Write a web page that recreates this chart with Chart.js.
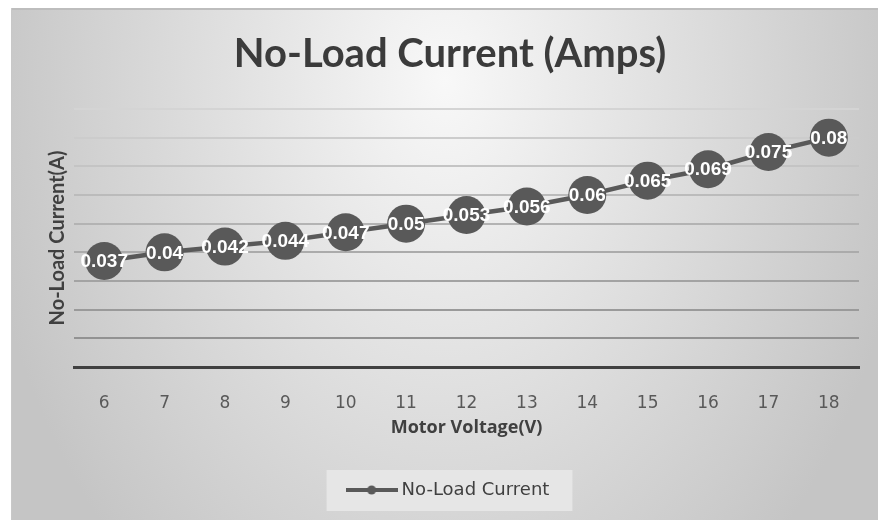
<!DOCTYPE html>
<html>
<head>
<meta charset="utf-8">
<title>No-Load Current (Amps)</title>
<script src="https://cdn.jsdelivr.net/npm/chart.js@4.4.0/dist/chart.umd.min.js"></script>
<style>
  html, body { margin: 0; padding: 0; background: #fff; }
  #wrap { position: relative; width: 878px; height: 521px; }
</style>
</head>
<body>
<div id="wrap"><canvas id="noLoad"></canvas></div>
<script>
// data
const voltages = ["6", "7", "8", "9", "10", "11", "12", "13", "14", "15", "16", "17", "18"];
const currents = [0.037, 0.04, 0.042, 0.044, 0.047, 0.05, 0.053, 0.056, 0.06, 0.065, 0.069, 0.075, 0.08];
const yMin = 0;
const yMax = 0.09;
const yStep = 0.01;

const markColor = "#595959";

// little line-with-dot icon for the legend
const legendIcon = document.createElement("canvas");
legendIcon.width = 52;
legendIcon.height = 10;
(function () {
  const c = legendIcon.getContext("2d");
  c.strokeStyle = markColor;
  c.lineWidth = 4;
  c.beginPath();
  c.moveTo(0, 5);
  c.lineTo(52, 5);
  c.stroke();
  c.fillStyle = markColor;
  c.beginPath();
  c.arc(26, 5, 4.5, 0, Math.PI * 2);
  c.fill();
})();

// grey background + legend box
const backdrop = {
  id: "backdrop",
  beforeDraw(chart) {
    const ctx = chart.ctx;
    ctx.save();
    ctx.fillStyle = "#fff";
    ctx.fillRect(0, 0, chart.width, chart.height);

    ctx.save();
    ctx.beginPath();
    ctx.rect(11, 8, 867, 512);
    ctx.clip();
    ctx.translate(445, 80);
    ctx.scale(1, 650 / 470);
    const g = ctx.createRadialGradient(0, 0, 0, 0, 0, 470);
    g.addColorStop(0, "#f8f8f8");
    g.addColorStop(1, "#c5c5c5");
    ctx.fillStyle = g;
    ctx.fillRect(-1000, -1000, 2000, 2000);
    ctx.restore();

    ctx.fillStyle = "#bdbdbd";
    ctx.fillRect(11, 8, 867, 2);
    ctx.fillStyle = "#c8c8c8";
    ctx.fillRect(11, 8, 1, 512);

    const hb = chart.legend.legendHitBoxes[0];
    if (hb) {
      const cy = hb.top + hb.height / 2;
      ctx.fillStyle = "#e6e6e6";
      ctx.fillRect(hb.left - 24, cy - 20, hb.width + 47, 41);
    }
    ctx.restore();
  }
};

// white values on top of the markers
const pointLabels = {
  id: "pointLabels",
  afterDatasetsDraw(chart) {
    const ctx = chart.ctx;
    const meta = chart.getDatasetMeta(0);
    const vals = chart.data.datasets[0].data;
    ctx.save();
    ctx.font = 'bold 19px "Liberation Sans"';
    ctx.fillStyle = "#ffffff";
    ctx.textAlign = "center";
    ctx.textBaseline = "middle";
    meta.data.forEach(function (pt, i) {
      ctx.fillText(String(vals[i]), pt.x, pt.y + 1);
    });
    ctx.restore();
  }
};

function gridShade(c) {
  if (c.index === 0) return "rgba(0,0,0,0)";
  const t = (c.index - 1) / 8;
  const v = Math.round(0x92 + t * (0xd4 - 0x92));
  return "rgb(" + v + "," + v + "," + v + ")";
}

new Chart("noLoad", {
  type: "line",
  data: {
    labels: voltages,
    datasets: [
      {
        label: "No-Load Current",
        data: currents,
        borderColor: markColor,
        backgroundColor: markColor,
        borderWidth: 4.5,
        pointRadius: 19,
        pointBackgroundColor: markColor,
        pointBorderWidth: 0,
        pointStyle: "circle",
        tension: 0,
        clip: false
      }
    ]
  },
  options: {
    responsive: true,
    maintainAspectRatio: false,
    animation: false,
    events: [],
    layout: {
      padding: { left: 36, right: 14, top: 0, bottom: 12 }
    },
    plugins: {
      title: {
        display: true,
        text: "No-Load Current (Amps)",
        color: "#3b3b3b",
        font: { family: "Lato", weight: "bold", size: 40, lineHeight: 1.2 },
        padding: { top: 30, bottom: 31 }
      },
      legend: {
        position: "bottom",
        labels: {
          usePointStyle: true,
          pointStyle: legendIcon,
          pointStyleWidth: 42,
          padding: 34.8,
          color: "#404040",
          font: { family: '"DejaVu Sans"', size: 18 }
        }
      },
      tooltip: { enabled: false }
    },
    scales: {
      x: {
        type: "category",
        offset: true,
        grid: { display: false },
        border: { display: true, color: "#404040", width: 3 },
        ticks: {
          color: "#595959",
          padding: 18,
          maxRotation: 0,
          font: { family: '"DejaVu Sans"', size: 17 }
        },
        title: {
          display: true,
          text: "Motor Voltage(V)",
          color: "#404040",
          font: { family: '"Open Sans"', weight: "bold", size: 18 },
          padding: { top: 0, bottom: 8 }
        },
        afterFit(s) { s.height = 79.2; }
      },
      y: {
        min: yMin,
        max: yMax,
        ticks: { display: false, stepSize: yStep },
        border: { display: false },
        grid: { color: gridShade, lineWidth: 2, drawTicks: false },
        title: {
          display: true,
          text: "No-Load Current(A)",
          color: "#404040",
          font: { family: "Lato", weight: "bold", size: 20 },
          padding: { top: 10, bottom: 0 }
        },
        afterFit(s) { s.width = 38; }
      }
    }
  },
  plugins: [backdrop, pointLabels]
});
</script>
</body>
</html>
